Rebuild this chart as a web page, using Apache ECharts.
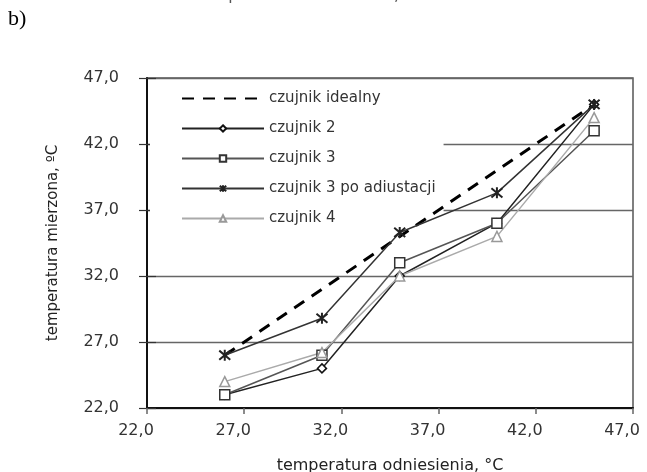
<!DOCTYPE html>
<html>
<head>
<meta charset="utf-8">
<script src="https://cdn.jsdelivr.net/npm/echarts@6/dist/echarts.min.js"></script>
<style>
  html, body { margin: 0; padding: 0; background: #fff; }
  #chart { width: 647px; height: 472px; }
</style>
</head>
<body>
<div id="chart"></div>
<script>
// temperatura odniesienia (os X)
const refTemps = [26, 31, 35, 40, 45]
const idealny = [26, 31, 35, 40, 45]
const czujnik2 = [23, 25, 32, 36, 45]
const czujnik3 = [23, 26, 33, 36, 43]
const czujnik3Adj = [26, 28.8, 35.3, 38.3, 45]
const czujnik4 = [24, 26.2, 32, 35, 44]
const axisMin = 22
const axisMax = 47
const axisStep = 5

const pairs = (vals) => refTemps.map((x, i) => [x, vals[i]])
const fmt = (v) => v.toFixed(1).replace('.', ',')
const font = 'DejaVu Sans'
const starPath = 'path://M0,0L10,10M10,0L0,10M5,-1L5,11'

const chart = echarts.init(document.getElementById('chart'))

const option = {
  animation: false,
  backgroundColor: '#fff',
  graphic: [
    {
      type: 'text',
      left: 8,
      top: 8,
      style: { text: 'b)', font: '22px "Liberation Serif"', fill: '#000' }
    },
    {
      type: 'text',
      x: 310,
      y: -12,
      style: {
        text: 'temperatura odniesienia, °C',
        font: '16px "DejaVu Sans"',
        fill: '#555',
        textAlign: 'center'
      }
    }
  ],
  grid: {
    left: 147,
    right: 14,
    top: 78,
    bottom: 64,
    outerBoundsMode: 'none',
    show: true,
    borderColor: '#555',
    borderWidth: 1.5
  },
  legend: {
    orient: 'vertical',
    left: 150,
    top: 80,
    z: 1,
    padding: [11, 8, 3, 31],
    backgroundColor: '#fff',
    itemWidth: 82,
    itemHeight: 8,
    itemGap: 15,
    textStyle: { fontFamily: font, fontSize: 15, color: '#333', lineHeight: 14 },
    data: [
      { name: 'czujnik idealny', itemStyle: { opacity: 0 } },
      'czujnik 2', 'czujnik 3', 'czujnik 3 po adiustacji', 'czujnik 4'
    ]
  },
  xAxis: {
    type: 'value',
    min: axisMin,
    max: axisMax,
    interval: axisStep,
    name: 'temperatura odniesienia, °C',
    nameLocation: 'middle',
    nameGap: 50,
    nameTextStyle: { fontFamily: font, fontSize: 16, color: '#222' },
    axisLine: { lineStyle: { color: '#111', width: 2 } },
    axisTick: { length: 6, lineStyle: { color: '#666', width: 1.5 } },
    axisLabel: {
      formatter: fmt,
      margin: 15,
      padding: [0, 22, 0, 0],
      fontFamily: font,
      fontSize: 16,
      color: '#333'
    },
    splitLine: { show: false }
  },
  yAxis: [
    {
      type: 'value',
      min: axisMin,
      max: axisMax,
      interval: axisStep,
      name: 'temperatura mierzona, ºC',
      nameLocation: 'middle',
      nameGap: 86,
      nameTextStyle: { fontFamily: font, fontSize: 15, color: '#222' },
      axisLine: { show: true, lineStyle: { color: '#111', width: 2 } },
      axisTick: { show: true, length: 8, lineStyle: { color: '#333', width: 1.2 } },
      axisLabel: {
        formatter: fmt,
        margin: 28,
        padding: [6, 0, 0, 0],
        fontFamily: font,
        fontSize: 16,
        color: '#333'
      },
      splitLine: { show: true, lineStyle: { color: '#666', width: 1.4 } }
    },
    {
      type: 'value',
      min: axisMin,
      max: axisMax,
      interval: axisStep,
      position: 'left',
      axisLine: { show: false },
      axisTick: { show: true, inside: true, length: 9, lineStyle: { color: '#333', width: 1.2 } },
      axisLabel: { show: false },
      splitLine: { show: false }
    }
  ],
  series: [
    {
      name: 'czujnik idealny',
      type: 'line',
      z: 3,
      data: pairs(idealny),
      symbol: 'none',
      lineStyle: { color: '#000', width: 3, type: [12, 9] },
      itemStyle: { color: '#000' }
    },
    {
      name: 'czujnik 2',
      type: 'line',
      z: 3,
      data: pairs(czujnik2),
      symbol: 'diamond',
      symbolSize: 9,
      lineStyle: { color: '#222', width: 1.5 },
      itemStyle: { color: '#fff', borderColor: '#111', borderWidth: 1.5 }
    },
    {
      name: 'czujnik 3',
      type: 'line',
      z: 3,
      data: pairs(czujnik3),
      symbol: 'rect',
      symbolSize: 10,
      lineStyle: { color: '#555', width: 1.5 },
      itemStyle: { color: '#fff', borderColor: '#333', borderWidth: 1.5 }
    },
    {
      name: 'czujnik 3 po adiustacji',
      type: 'line',
      z: 3,
      data: pairs(czujnik3Adj),
      symbol: starPath,
      symbolSize: 11,
      lineStyle: { color: '#333', width: 1.5 },
      itemStyle: { color: '#222', borderColor: '#222', borderWidth: 2 }
    },
    {
      name: 'czujnik 4',
      type: 'line',
      z: 3,
      data: pairs(czujnik4),
      symbol: 'triangle',
      symbolSize: 10,
      lineStyle: { color: '#aaa', width: 1.5 },
      itemStyle: { color: '#fff', borderColor: '#999', borderWidth: 1.5 }
    }
  ]
}

chart.setOption(option)
</script>
</body>
</html>
